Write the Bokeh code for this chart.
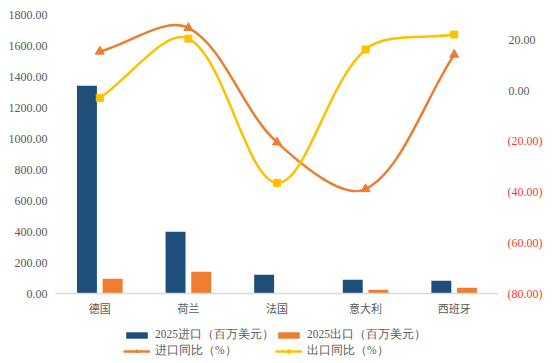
from bokeh.plotting import figure
from bokeh.layouts import column
from bokeh.models import (Range1d, LinearAxis, FixedTicker, CustomJSTickFormatter,
                          Legend, LegendItem, ColumnDataSource, NumeralTickFormatter)
from bokeh.embed import file_html
from bokeh.resources import INLINE
import math

# ---- data ----
categories = ["德国", "荷兰", "法国", "意大利", "西班牙"]
imports_2025 = [1340, 398, 121, 88, 82]       # 百万美元
exports_2025 = [95, 140, 1.5, 24, 37]         # 百万美元
import_yoy = [15.4, 24.7, -20.4, -38.8, 14.2]  # %
export_yoy = [-2.9, 20.5, -36.4, 16.2, 22.1]   # %
left_ticks = [0, 200, 400, 600, 800, 1000, 1200, 1400, 1600, 1800]
right_neg_ticks = [-80, -60, -40, -20]
right_pos_ticks = [0, 20]
legend_labels = ["2025进口（百万美元）", "2025出口（百万美元）", "进口同比（%）", "出口同比（%）"]

# ---- style ----
NAVY = "#1F4E79"
ORANGE = "#ED7D31"
YELLOW = "#FFC000"
TXT = "#595959"
RED = "#F03C3C"
NUM_FONT = "Liberation Serif"
CJK_FONT = "Noto Sans CJK SC"

W = 546
BL, BR, BT, BB = 55, 48, 14, 26
FH = 279
H1 = BT + FH + BB
H2 = 363 - H1
FW = W - BL - BR

n = len(categories)
xs = [i + 0.5 for i in range(n)]
bw = 0.225
off = 0.145


def smooth(xv, yv, sx, sy):
    # Excel-like smoothed bezier control points (computed in screen-proportional space)
    P = [(a * sx, b * sy) for a, b in zip(xv, yv)]
    m = len(P)
    segs = {k: [] for k in ("x0", "y0", "x1", "y1", "cx0", "cy0", "cx1", "cy1")}
    def d(a, b):
        return math.hypot(a[0] - b[0], a[1] - b[1])
    for i in range(m - 1):
        p0 = P[i - 1] if i > 0 else P[i]
        p1, p2 = P[i], P[i + 1]
        p3 = P[i + 2] if i + 2 < m else P[i + 1]
        d01, d12, d23 = d(p0, p1), d(p1, p2), d(p2, p3)
        f1 = d12 / (3 * (d01 + d12))
        f2 = d12 / (3 * (d12 + d23))
        c1 = (p1[0] + (p2[0] - p0[0]) * f1, p1[1] + (p2[1] - p0[1]) * f1)
        c2 = (p2[0] - (p3[0] - p1[0]) * f2, p2[1] - (p3[1] - p1[1]) * f2)
        segs["x0"].append(p1[0] / sx); segs["y0"].append(p1[1] / sy)
        segs["x1"].append(p2[0] / sx); segs["y1"].append(p2[1] / sy)
        segs["cx0"].append(c1[0] / sx); segs["cy0"].append(c1[1] / sy)
        segs["cx1"].append(c2[0] / sx); segs["cy1"].append(c2[1] / sy)
    return segs

sx = FW / n
sy = FH / 110.0
curve_src = [ColumnDataSource(smooth(xs, s, sx, sy)) for s in (import_yoy, export_yoy)]


def draw_series(fig, y_name):
    r1 = fig.vbar(x=[x - off for x in xs], top=imports_2025, width=bw, bottom=0, color=NAVY, line_color=None)
    r2 = fig.vbar(x=[x + off for x in xs], top=exports_2025, width=bw, bottom=0, color=ORANGE, line_color=None)
    c = []
    for src, col in zip(curve_src, (ORANGE, YELLOW)):
        c.append(fig.bezier(source=src, x0="x0", y0="y0", x1="x1", y1="y1",
                            cx0="cx0", cy0="cy0", cx1="cx1", cy1="cy1",
                            line_color=col, line_width=2.5, y_range_name=y_name))
    m1 = fig.scatter(xs, import_yoy, marker="triangle", size=9, color=ORANGE, y_range_name=y_name)
    m2 = fig.scatter(xs, export_yoy, marker="square", size=7, color=YELLOW, y_range_name=y_name)
    return r1, r2, c, m1, m2


# ---- main chart ----
p = figure(width=W, height=H1, output_backend="svg", toolbar_location=None,
           x_range=Range1d(0, n), y_range=Range1d(0, 1800),
           min_border_left=BL, min_border_right=BR, min_border_top=BT, min_border_bottom=BB)
p.outline_line_color = None
p.xgrid.visible = False
p.ygrid.visible = False
p.extra_y_ranges = {"pct": Range1d(-80, 30)}
draw_series(p, "pct")

xa = p.xaxis[0]
xa.ticker = FixedTicker(ticks=xs)
xa.major_label_overrides = {x: c for x, c in zip(xs, categories)}
xa.axis_line_color = "#D9D9D9"
xa.axis_line_width = 1.5
xa.major_tick_line_color = None
xa.minor_tick_line_color = None
xa.major_tick_out = 0
xa.major_tick_in = 0
xa.major_label_standoff = 6
xa.major_label_text_font = CJK_FONT
xa.major_label_text_font_size = "11px"
xa.major_label_text_color = TXT

ya = p.yaxis[0]
ya.ticker = FixedTicker(ticks=left_ticks)
ya.formatter = NumeralTickFormatter(format="0.00")
ya.axis_line_color = None
ya.major_tick_line_color = None
ya.minor_tick_line_color = None
ya.major_tick_out = 0
ya.major_tick_in = 0
ya.major_label_standoff = 8
ya.major_label_text_font = NUM_FONT
ya.major_label_text_font_size = "12px"
ya.major_label_text_color = TXT


def right_axis(ticks, code, color, standoff):
    a = LinearAxis(y_range_name="pct", ticker=FixedTicker(ticks=ticks),
                   formatter=CustomJSTickFormatter(code=code))
    a.axis_line_color = None
    a.major_tick_line_color = None
    a.minor_tick_line_color = None
    a.major_tick_out = 0
    a.major_tick_in = 0
    a.major_label_standoff = standoff
    a.major_label_text_font = NUM_FONT
    a.major_label_text_font_size = "12px"
    a.major_label_text_color = color
    a.major_label_text_align = "left"
    return a

ra = right_axis(right_neg_ticks, "return '(' + Math.abs(tick).toFixed(2) + ')';", RED, 9)
rb = right_axis(right_pos_ticks, "return tick.toFixed(2);", TXT, -37)
p.add_layout(ra, "right")
p.add_layout(rb, "right")

# ---- legend strip (same series, ranges chosen so only the legend shows) ----
q = figure(width=W, height=H2, output_backend="svg", toolbar_location=None,
           x_range=Range1d(0, n), y_range=Range1d(1e6, 2e6),
           x_axis_location=None, y_axis_location=None,
           min_border_left=0, min_border_right=0, min_border_top=0, min_border_bottom=0)
q.outline_line_color = None
q.xgrid.visible = False
q.ygrid.visible = False
q.extra_y_ranges = {"pct": Range1d(1e6, 2e6)}
q1, q2, qc, qm1, qm2 = draw_series(q, "pct")

legend = Legend(items=[
    LegendItem(label=legend_labels[0], renderers=[q1]),
    LegendItem(label=legend_labels[1], renderers=[q2]),
    LegendItem(label=legend_labels[2], renderers=[qc[0], qm1]),
    LegendItem(label=legend_labels[3], renderers=[qc[1], qm2]),
], location=(68, 5), orientation="horizontal", nrows=2,
    padding=0, spacing=1, margin=0, glyph_width=27, glyph_height=8, label_height=12,
    label_standoff=5, label_text_font=NUM_FONT, label_text_font_size="11.5px",
    label_text_color=TXT, background_fill_alpha=0, border_line_color=None)
q.add_layout(legend, "center")

open("out.html", "w").write(file_html(column(p, q), INLINE))
